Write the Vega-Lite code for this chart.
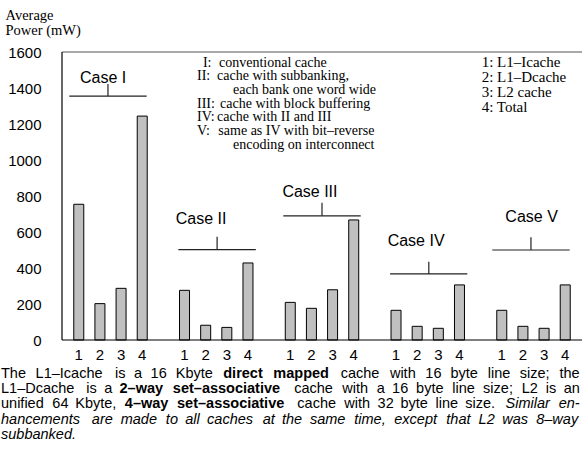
{
  "$schema": "https://vega.github.io/schema/vega-lite/v6.json",
  "width": 520,
  "height": 288,
  "autosize": {"type": "none"},
  "padding": {"left": 62, "top": 52, "right": 0, "bottom": 110},
  "background": "white",
  "config": {"view": {"stroke": null}, "font": "Liberation Sans"},
  "datasets": {
    "bars": [
      {"case": "Case I", "cache": "1", "power": 754},
      {"case": "Case I", "cache": "2", "power": 202},
      {"case": "Case I", "cache": "3", "power": 287},
      {"case": "Case I", "cache": "4", "power": 1244},
      {"case": "Case II", "cache": "1", "power": 276},
      {"case": "Case II", "cache": "2", "power": 82},
      {"case": "Case II", "cache": "3", "power": 70},
      {"case": "Case II", "cache": "4", "power": 428},
      {"case": "Case III", "cache": "1", "power": 209},
      {"case": "Case III", "cache": "2", "power": 176},
      {"case": "Case III", "cache": "3", "power": 279},
      {"case": "Case III", "cache": "4", "power": 667},
      {"case": "Case IV", "cache": "1", "power": 165},
      {"case": "Case IV", "cache": "2", "power": 76},
      {"case": "Case IV", "cache": "3", "power": 65},
      {"case": "Case IV", "cache": "4", "power": 306},
      {"case": "Case V", "cache": "1", "power": 165},
      {"case": "Case V", "cache": "2", "power": 76},
      {"case": "Case V", "cache": "3", "power": 65},
      {"case": "Case V", "cache": "4", "power": 306}
    ],
    "frame": [
      {"edge": "top", "x1": -0.793, "x2": 23.793, "y1": 1600, "y2": 1600},
      {"edge": "bottom", "x1": -0.793, "x2": 23.793, "y1": 0, "y2": 0},
      {"edge": "left", "x1": -0.793, "x2": -0.793, "y1": 0, "y2": 1600}
    ],
    "brackets": [
      {"case": "Case I", "x1": -0.45, "x2": 3.21, "xm": 1.38, "y": 1355, "ytop": 1422},
      {"case": "Case II", "x1": 4.71, "x2": 8.37, "xm": 6.54, "y": 502, "ytop": 574},
      {"case": "Case III", "x1": 9.67, "x2": 13.33, "xm": 11.5, "y": 690, "ytop": 762},
      {"case": "Case IV", "x1": 14.72, "x2": 18.37, "xm": 16.55, "y": 367, "ytop": 435},
      {"case": "Case V", "x1": 19.55, "x2": 23.21, "xm": 21.38, "y": 500, "ytop": 571}
    ],
    "caseLabels": [
      {"label": "Case I", "x": 1.15, "y": 1426},
      {"label": "Case II", "x": 5.78, "y": 642},
      {"label": "Case III", "x": 10.93, "y": 793},
      {"label": "Case IV", "x": 15.95, "y": 522},
      {"label": "Case V", "x": 21.41, "y": 657}
    ],
    "legendLeft": [
      {"t": "I:", "x": 5.87, "y": 1518},
      {"t": "conventional cache", "x": 6.63, "y": 1518},
      {"t": "II:", "x": 5.59, "y": 1442},
      {"t": "cache with subbanking,", "x": 6.54, "y": 1442},
      {"t": "each bank one word wide", "x": 7.29, "y": 1366},
      {"t": "III:", "x": 5.59, "y": 1290},
      {"t": "cache with block buffering", "x": 6.68, "y": 1290},
      {"t": "IV:", "x": 5.59, "y": 1214},
      {"t": "cache with II and III", "x": 6.54, "y": 1214},
      {"t": "V:", "x": 5.59, "y": 1138},
      {"t": "same as IV with bit–reverse", "x": 6.6, "y": 1138},
      {"t": "encoding on interconnect", "x": 7.29, "y": 1062}
    ],
    "legendRight": [
      {"t": "1: L1–Icache", "x": 19.05, "y": 1518},
      {"t": "2: L1–Dcache", "x": 19.05, "y": 1435},
      {"t": "3: L2 cache", "x": 19.05, "y": 1352},
      {"t": "4: Total", "x": 19.05, "y": 1268}
    ],
    "captionRegular": [
      {"t": "The", "x": -3.677, "y": -211},
      {"t": "L1–Icache", "x": -2.041, "y": -211},
      {"t": "is", "x": 1.713, "y": -211},
      {"t": "a", "x": 2.616, "y": -211},
      {"t": "16", "x": 3.396, "y": -211},
      {"t": "Kbyte", "x": 4.584, "y": -211},
      {"t": "cache", "x": 12.383, "y": -211},
      {"t": "with", "x": 14.711, "y": -211},
      {"t": "16", "x": 16.387, "y": -211},
      {"t": "byte", "x": 17.575, "y": -211},
      {"t": "line", "x": 19.334, "y": -211},
      {"t": "size;", "x": 20.847, "y": -211},
      {"t": "the", "x": 22.727, "y": -211},
      {"t": "L1–Dcache", "x": -3.677, "y": -296},
      {"t": "is", "x": 0.35, "y": -296},
      {"t": "a", "x": 1.2, "y": -296},
      {"t": "cache", "x": 10.187, "y": -296},
      {"t": "with", "x": 12.463, "y": -296},
      {"t": "a", "x": 14.087, "y": -296},
      {"t": "16", "x": 14.815, "y": -296},
      {"t": "byte", "x": 15.95, "y": -296},
      {"t": "line", "x": 17.656, "y": -296},
      {"t": "size;", "x": 19.117, "y": -296},
      {"t": "L2", "x": 20.945, "y": -296},
      {"t": "is", "x": 22.08, "y": -296},
      {"t": "an", "x": 22.93, "y": -296},
      {"t": "unified", "x": -3.677, "y": -380},
      {"t": "64", "x": -1.25, "y": -380},
      {"t": "Kbyte,", "x": -0.167, "y": -380},
      {"t": "cache", "x": 10.333, "y": -380},
      {"t": "with", "x": 12.556, "y": -380},
      {"t": "32", "x": 14.127, "y": -380},
      {"t": "byte", "x": 15.21, "y": -380},
      {"t": "line", "x": 16.864, "y": -380},
      {"t": "size.", "x": 18.272, "y": -380}
    ],
    "captionBold": [
      {"t": "direct", "x": 6.831, "y": -211},
      {"t": "mapped", "x": 9.2, "y": -211},
      {"t": "2–way", "x": 1.928, "y": -296},
      {"t": "set–associative", "x": 4.449, "y": -296},
      {"t": "4–way", "x": 2.179, "y": -380},
      {"t": "set–associative", "x": 4.647, "y": -380}
    ],
    "captionItalic": [
      {"t": "Similar", "x": 20.181, "y": -380},
      {"t": "en-", "x": 22.688, "y": -380},
      {"t": "hancements", "x": -3.677, "y": -464},
      {"t": "are", "x": 0.618, "y": -464},
      {"t": "made", "x": 1.981, "y": -464},
      {"t": "to", "x": 4.117, "y": -464},
      {"t": "all", "x": 5.032, "y": -464},
      {"t": "caches", "x": 6.068, "y": -464},
      {"t": "at", "x": 8.693, "y": -464},
      {"t": "the", "x": 9.607, "y": -464},
      {"t": "same", "x": 10.93, "y": -464},
      {"t": "time,", "x": 13.025, "y": -464},
      {"t": "except", "x": 14.916, "y": -464},
      {"t": "that", "x": 17.379, "y": -464},
      {"t": "L2", "x": 18.904, "y": -464},
      {"t": "was", "x": 20.023, "y": -464},
      {"t": "8–way", "x": 21.629, "y": -464},
      {"t": "subbanked.", "x": -3.677, "y": -549}
    ]
  },
  "layer": [
    {
      "data": {"name": "bars"},
      "mark": {"type": "bar", "fill": "#c0c0c0", "stroke": "black", "strokeWidth": 1},
      "encoding": {
        "x": {
          "field": "case", "type": "nominal",
          "scale": {"domain": ["Case I", "Case II", "Case III", "Case IV", "Case V"], "paddingInner": 0.2, "paddingOuter": 0.0586},
          "axis": null
        },
        "xOffset": {
          "field": "cache", "type": "nominal",
          "scale": {"domain": ["1", "2", "3", "4"], "paddingInner": 0.527, "paddingOuter": 0.2635}
        },
        "y": {
          "field": "power", "type": "quantitative",
          "scale": {"domain": [0, 1600], "nice": false},
          "axis": {
            "title": ["Average", "Power (mW)"],
            "titleFont": "Liberation Serif", "titleFontSize": 14.5, "titleFontWeight": "normal",
            "titleAngle": 0, "titleAlign": "left", "titleBaseline": "alphabetic",
            "titleX": -57, "titleY": -33, "titleLineHeight": 15.5, "titleColor": "black",
            "values": [0, 200, 400, 600, 800, 1000, 1200, 1400, 1600],
            "format": "d",
            "ticks": false, "tickSize": 0, "grid": false, "domain": false,
            "labelFont": "Liberation Sans", "labelFontSize": 15, "labelColor": "black",
            "labelPadding": 21, "labelFlush": false, "labelOverlap": false
          }
        }
      }
    },
    {
      "data": {"name": "bars"},
      "mark": {"type": "text", "font": "Liberation Sans", "fontSize": 15, "color": "black", "baseline": "middle", "dy": 15},
      "encoding": {
        "x": {
          "field": "case", "type": "nominal",
          "scale": {"domain": ["Case I", "Case II", "Case III", "Case IV", "Case V"], "paddingInner": 0.2, "paddingOuter": 0.0586},
          "axis": null
        },
        "xOffset": {
          "field": "cache", "type": "nominal",
          "scale": {"domain": ["1", "2", "3", "4"], "paddingInner": 0.527, "paddingOuter": 0.2635}
        },
        "y": {"datum": 0, "type": "quantitative", "scale": {"domain": [0, 1600], "nice": false}, "axis": null},
        "text": {"field": "cache"}
      }
    },
    {
      "data": {"name": "frame"},
      "mark": {"type": "rule", "strokeWidth": 1.2},
      "encoding": {
        "x": {"field": "x1", "type": "quantitative", "scale": {"domain": [-0.793, 23.793], "nice": false, "zero": false}, "axis": null},
        "x2": {"field": "x2"},
        "y": {"field": "y1", "type": "quantitative", "scale": {"domain": [0, 1600], "nice": false}, "axis": null},
        "y2": {"field": "y2"},
        "color": {"field": "edge", "type": "nominal", "scale": {"domain": ["top", "bottom", "left"], "range": ["#555555", "#000000", "#000000"]}, "legend": null}
      }
    },
    {
      "data": {"name": "brackets"},
      "mark": {"type": "rule", "color": "#222222", "strokeWidth": 1.2},
      "encoding": {
        "x": {"field": "x1", "type": "quantitative", "scale": {"domain": [-0.793, 23.793], "nice": false, "zero": false}, "axis": null},
        "x2": {"field": "x2"},
        "y": {"field": "y", "type": "quantitative", "scale": {"domain": [0, 1600], "nice": false}, "axis": null}
      }
    },
    {
      "data": {"name": "brackets"},
      "mark": {"type": "rule", "color": "#222222", "strokeWidth": 1.2},
      "encoding": {
        "x": {"field": "xm", "type": "quantitative", "scale": {"domain": [-0.793, 23.793], "nice": false, "zero": false}, "axis": null},
        "y": {"field": "y", "type": "quantitative", "scale": {"domain": [0, 1600], "nice": false}, "axis": null},
        "y2": {"field": "ytop"}
      }
    },
    {
      "data": {"name": "caseLabels"},
      "mark": {"type": "text", "font": "Liberation Sans", "fontSize": 16, "color": "black", "align": "center", "baseline": "alphabetic"},
      "encoding": {
        "x": {"field": "x", "type": "quantitative", "scale": {"domain": [-0.793, 23.793], "nice": false, "zero": false}, "axis": null},
        "y": {"field": "y", "type": "quantitative", "scale": {"domain": [0, 1600], "nice": false}, "axis": null},
        "text": {"field": "label"}
      }
    },
    {
      "data": {"name": "legendLeft"},
      "mark": {"type": "text", "font": "Liberation Serif", "fontSize": 14, "color": "black", "align": "left", "baseline": "alphabetic"},
      "encoding": {
        "x": {"field": "x", "type": "quantitative", "scale": {"domain": [-0.793, 23.793], "nice": false, "zero": false}, "axis": null},
        "y": {"field": "y", "type": "quantitative", "scale": {"domain": [0, 1600], "nice": false}, "axis": null},
        "text": {"field": "t"}
      }
    },
    {
      "data": {"name": "legendRight"},
      "mark": {"type": "text", "font": "Liberation Serif", "fontSize": 15, "color": "black", "align": "left", "baseline": "alphabetic"},
      "encoding": {
        "x": {"field": "x", "type": "quantitative", "scale": {"domain": [-0.793, 23.793], "nice": false, "zero": false}, "axis": null},
        "y": {"field": "y", "type": "quantitative", "scale": {"domain": [0, 1600], "nice": false}, "axis": null},
        "text": {"field": "t"}
      }
    },
    {
      "data": {"name": "captionRegular"},
      "mark": {"type": "text", "font": "Liberation Sans", "fontSize": 14.5, "color": "black", "align": "left", "baseline": "alphabetic"},
      "encoding": {
        "x": {"field": "x", "type": "quantitative", "scale": {"domain": [-0.793, 23.793], "nice": false, "zero": false}, "axis": null},
        "y": {"field": "y", "type": "quantitative", "scale": {"domain": [0, 1600], "nice": false}, "axis": null},
        "text": {"field": "t"}
      }
    },
    {
      "data": {"name": "captionBold"},
      "mark": {"type": "text", "font": "Liberation Sans", "fontSize": 14.5, "fontWeight": "bold", "color": "black", "align": "left", "baseline": "alphabetic"},
      "encoding": {
        "x": {"field": "x", "type": "quantitative", "scale": {"domain": [-0.793, 23.793], "nice": false, "zero": false}, "axis": null},
        "y": {"field": "y", "type": "quantitative", "scale": {"domain": [0, 1600], "nice": false}, "axis": null},
        "text": {"field": "t"}
      }
    },
    {
      "data": {"name": "captionItalic"},
      "mark": {"type": "text", "font": "Liberation Sans", "fontSize": 14.5, "fontStyle": "italic", "color": "black", "align": "left", "baseline": "alphabetic"},
      "encoding": {
        "x": {"field": "x", "type": "quantitative", "scale": {"domain": [-0.793, 23.793], "nice": false, "zero": false}, "axis": null},
        "y": {"field": "y", "type": "quantitative", "scale": {"domain": [0, 1600], "nice": false}, "axis": null},
        "text": {"field": "t"}
      }
    }
  ],
  "resolve": {"scale": {"x": "independent", "color": "independent"}, "axis": {"x": "independent", "y": "independent"}}
}
